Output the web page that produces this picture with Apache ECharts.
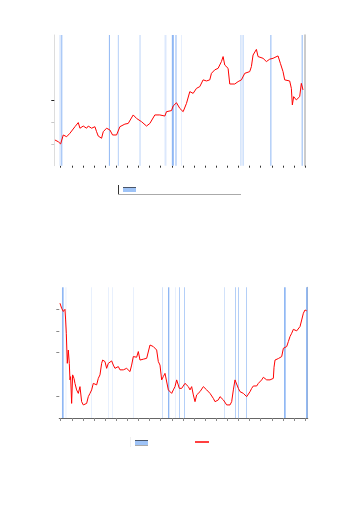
<!DOCTYPE html>
<html>
<head>
<meta charset="utf-8">
<title>chart</title>
<script src="https://cdn.jsdelivr.net/npm/echarts@6/dist/echarts.min.js"></script>
<style>
  html, body { margin: 0; padding: 0; background: #fff; }
  #chart { width: 352px; height: 512px; }
</style>
</head>
<body>
<div id="chart"></div>
<script>
// values; x is a plain time index, y the level (0..6)
var levels = ['0', '1', '2', '3', '4', '5', '6'];

var topPoints = [
  [75,1.18],[85,1.10],[92,1.00],[100,1.41],[110,1.33],[120,1.49],[135,1.79],[145,1.98],
  [150,1.72],[160,1.82],[170,1.72],[175,1.82],[185,1.72],[195,1.79],[200,1.56],[205,1.36],
  [215,1.26],[220,1.56],[230,1.72],[240,1.64],[248,1.41],[260,1.41],[270,1.79],[285,1.91],
  [295,1.94],[310,2.33],[320,2.17],[335,2.02],[350,1.82],[360,1.94],[375,2.33],[390,2.33],
  [405,2.28],[410,2.48],[425,2.53],[430,2.74],[440,2.89],[450,2.63],[460,2.48],[470,2.86],
  [480,3.40],[490,3.32],[500,3.55],[510,3.63],[520,3.94],[530,3.89],[540,3.94],[545,4.24],
  [555,4.40],[565,4.47],[575,4.78],[580,5.01],[585,4.62],[595,4.47],[600,3.75],[615,3.75],
  [625,3.86],[635,3.94],[645,4.24],[660,4.32],[665,4.55],[670,5.08],[680,5.34],[685,5.01],
  [700,4.93],[710,4.78],[720,4.89],[730,4.93],[745,5.04],[752,4.70],[760,4.32],[765,3.94],
  [780,3.89],[785,3.55],[788,2.79],[792,3.17],[800,3.02],[810,3.17],[815,3.78],[820,3.48]
];

var bottomPoints = [
  [90,5.27],[95,5.04],[100,4.89],[103,4.96],[105,4.99],[107,4.50],[109,3.89],[112,2.51],
  [115,3.12],[118,2.51],[120,1.75],[122,1.90],[125,0.67],[128,1.98],[132,1.82],[135,1.59],
  [140,1.29],[145,1.13],[150,1.44],[155,0.75],[160,0.60],[165,0.55],[170,0.67],[175,0.98],
  [180,1.13],[185,1.29],[190,1.59],[195,1.67],[200,1.52],[205,1.82],[210,1.98],[215,2.51],
  [218,2.66],[225,2.59],[230,2.28],[235,2.51],[240,2.59],[245,2.62],[250,2.43],[255,2.28],
  [260,2.33],[265,2.36],[270,2.21],[275,2.24],[280,2.21],[285,2.13],[290,2.28],[295,2.21],
  [300,2.13],[305,2.43],[310,2.82],[315,2.89],[320,2.79],[325,3.05],[330,2.66],[335,2.59],
  [340,2.70],[345,2.66],[350,2.74],[355,2.82],[360,3.35],[365,3.35],[370,3.28],[375,3.20],
  [380,3.12],[385,2.59],[390,2.43],[395,1.75],[400,1.90],[405,2.05],[410,1.98],[415,1.29],
  [420,1.21],[425,1.13],[430,1.29],[435,1.44],[440,1.75],[445,1.82],[448,1.36],[455,1.36],
  [460,1.44],[465,1.59],[470,1.56],[475,1.44],[480,1.29],[485,1.44],[490,1.06],[495,0.75],
  [500,1.06],[505,1.13],[510,1.21],[515,1.29],[520,1.44],[525,1.36],[530,1.29],[535,1.21],
  [540,1.13],[545,1.13],[550,0.90],[555,0.75],[560,0.83],[565,0.83],[570,0.98],[575,0.90],
  [580,0.83],[585,0.75],[590,0.60],[595,0.52],[600,0.60],[605,0.75],[610,1.29],[615,1.75],
  [620,1.82],[625,1.36],[630,1.21],[635,1.21],[640,1.13],[645,1.06],[650,0.98],[655,1.06],
  [660,1.21],[665,1.36],[670,1.47],[675,1.44],[680,1.47],[685,1.59],[690,1.67],[695,1.75],
  [700,1.87],[705,1.78],[710,1.75],[715,1.72],[720,1.75],[725,1.78],[730,1.82],[732,2.33],
  [735,2.66],[740,2.74],[745,2.73],[750,2.70],[755,2.82],[760,3.20],[765,3.25],[770,3.28],
  [775,3.51],[780,3.74],[785,3.89],[790,4.07],[795,4.04],[800,4.00],[805,4.01],[810,4.20],
  [815,4.50],[820,4.81],[825,4.96],[830,4.92]
];

// shaded periods: [start, end, intensity 1..3]
var topBands = [
  [88,94,1],[94,97,3],[237,240,3],[264,266,3],[329,332,2],[404,410,1],[426,432,3],
  [437,440,3],[454,456,1],[632,635,2],[639,641,3],[722,725,3],[816,819,3]
];
var bottomBands = [
  [96,101,3],[107,109,1],[183,185,1],[234,236,1],[246,248,1],[309,311,1],[396,398,2],
  [414,418,3],[435,437,1],[447,449,3],[462,464,3],[582,584,2],[615,617,3],[624,626,3],
  [648,650,3],[762,767,3],[828,833,3]
];

var shade = { 1: '#dce8fc', 2: '#bcd4f8', 3: '#8fb7f4' };

function bandData(list) {
  return list.map(function (b) {
    return [{ xAxis: b[0], itemStyle: { color: shade[b[2]] } }, { xAxis: b[1] }];
  });
}

function tickOnly(fn, color) {
  return {
    show: true, interval: fn, length: 3,
    lineStyle: { color: color, width: 1 }
  };
}

var off = { axisLine: { show: false }, axisTick: { show: false }, axisLabel: { show: false }, splitLine: { show: false } };
function ax(extra) { return Object.assign({}, off, extra); }

var myChart = echarts.init(document.getElementById('chart'));
var option = {
  animation: false,
  grid: [
    { left: 54.3, top: 35, width: 250.7, height: 130.7 },
    { left: 60.7, top: 35, width: 244.4, height: 130.7 },
    { left: 59.3, top: 287.3, width: 248.4, height: 130.7 },
    { left: 60.7, top: 287.3, width: 244.4, height: 130.7 }
  ],
  xAxis: [
    ax({ gridIndex: 0, type: 'value', min: 73, max: 826 }),
    ax({ gridIndex: 1, type: 'value', min: 0, max: 22, interval: 1,
         axisTick: { show: true, length: 2, lineStyle: { color: '#333' } } }),
    ax({ gridIndex: 2, type: 'value', min: 88, max: 833,
         axisLine: { show: true, lineStyle: { color: '#666', width: 1 } } }),
    ax({ gridIndex: 2, type: 'value', position: 'top', min: 88, max: 833,
         axisLine: { show: true, lineStyle: { color: '#666', width: 1 } } }),
    ax({ gridIndex: 3, type: 'value', min: 0, max: 22, interval: 1,
         axisTick: { show: true, length: 3, lineStyle: { color: '#888' } } })
  ],
  yAxis: [
    ax({ gridIndex: 0, type: 'value', min: 0, max: 6 }),
    ax({ gridIndex: 0, type: 'category', data: levels, boundaryGap: false, position: 'left',
         axisLine: { show: true, lineStyle: { color: '#ddd', width: 1 } },
         axisTick: tickOnly(function (i) { return i === 1 || i === 2; }, '#c8c8c8') }),
    ax({ gridIndex: 0, type: 'category', data: levels, boundaryGap: false, position: 'left',
         axisTick: tickOnly(function (i) { return i === 3; }, '#222') }),
    ax({ gridIndex: 0, type: 'value', position: 'right', min: 0, max: 6,
         axisLine: { show: true, lineStyle: { color: '#bbb', width: 1.5 } } }),
    ax({ gridIndex: 1, type: 'value', min: 0, max: 6 }),
    ax({ gridIndex: 2, type: 'value', min: 0, max: 6 }),
    ax({ gridIndex: 2, type: 'category', data: levels, boundaryGap: false, position: 'left',
         axisTick: tickOnly(function (i) { return i === 1 || i === 3 || i === 4 || i === 5; }, '#888') }),
    ax({ gridIndex: 2, type: 'value', position: 'right', min: 0, max: 6,
         axisLine: { show: true, lineStyle: { color: '#aaa', width: 1 } } }),
    ax({ gridIndex: 3, type: 'value', min: 0, max: 6 })
  ],
  series: [
    {
      type: 'line', xAxisIndex: 0, yAxisIndex: 0, data: [], z: 1, silent: true,
      markArea: { silent: true, data: bandData(topBands) }
    },
    {
      type: 'line', xAxisIndex: 0, yAxisIndex: 0, data: topPoints, z: 3,
      symbol: 'none', lineStyle: { color: '#ff0000', width: 1 }
    },
    {
      type: 'line', xAxisIndex: 2, yAxisIndex: 5, data: [], z: 1, silent: true,
      markArea: { silent: true, data: bandData(bottomBands) }
    },
    {
      type: 'line', xAxisIndex: 2, yAxisIndex: 5, data: bottomPoints, z: 3,
      symbol: 'none', lineStyle: { color: '#ff0000', width: 1 }
    }
  ],
  graphic: [
    // top legend box
    { type: 'line', shape: { x1: 118.5, y1: 185, x2: 118.5, y2: 194.5 }, style: { stroke: '#333', lineWidth: 1 } },
    { type: 'line', shape: { x1: 118, y1: 194.5, x2: 241, y2: 194.5 }, style: { stroke: '#aaa', lineWidth: 1 } },
    { type: 'rect', shape: { x: 123, y: 187, width: 13, height: 5 }, style: { fill: '#9ec3f7' } },
    { type: 'line', shape: { x1: 123, y1: 187.5, x2: 136, y2: 187.5 }, style: { stroke: '#4a5568', lineWidth: 1 } },
    // bottom legend
    { type: 'line', shape: { x1: 130.5, y1: 437, x2: 130.5, y2: 447 }, style: { stroke: '#f0f0f0', lineWidth: 1 } },
    { type: 'rect', shape: { x: 135, y: 440, width: 13, height: 6 }, style: { fill: '#9ec3f7' } },
    { type: 'line', shape: { x1: 135, y1: 440.5, x2: 148, y2: 440.5 }, style: { stroke: '#4a5568', lineWidth: 1 } },
    { type: 'line', shape: { x1: 135, y1: 445.5, x2: 148, y2: 445.5 }, style: { stroke: '#aaa', lineWidth: 1 } },
    { type: 'line', shape: { x1: 195, y1: 442, x2: 209, y2: 442 }, style: { stroke: '#ff0000', lineWidth: 1.5 } }
  ]
};
myChart.setOption(option);
</script>
</body>
</html>
